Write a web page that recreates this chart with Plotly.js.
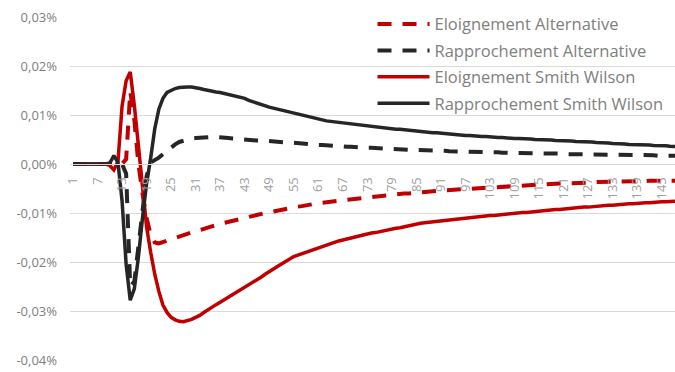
<!DOCTYPE html>
<html>
<head>
<meta charset="utf-8">
<script src="https://cdn.plot.ly/plotly-3.0.1.min.js"></script>
<style>html,body{margin:0;padding:0;background:#fff;}#chart{width:675px;height:372px;}</style>
</head>
<body>
<div id="chart"></div>
<script>
// Values in percent (0.01 = 0,01%)
const categories = Array.from({length: 150}, (_, i) => i + 1);

const eloignementAlternative = [
 0,0,0,0,0,0,0,0,0,0,0,0,0,
 0.0010,0.0148,0.0090,0.0000,-0.0060,-0.0110,-0.0145,-0.0160,-0.0162,-0.0159,-0.0156,-0.0153,-0.0150,-0.0147,-0.0145,-0.0142,-0.0140,
 -0.0137,-0.0135,-0.0132,-0.0130,-0.0127,-0.0125,-0.0122,-0.0120,-0.0118,-0.0116,
 -0.0113,-0.0111,-0.0109,-0.0107,-0.0104,-0.0103,-0.0101,-0.0100,-0.0098,-0.0097,
 -0.0095,-0.0093,-0.0092,-0.0090,-0.0089,-0.0087,-0.0086,-0.0084,-0.0083,-0.0082,
 -0.0080,-0.0079,-0.0078,-0.0076,-0.0075,-0.0074,-0.0073,-0.0072,-0.0071,-0.0070,
 -0.0069,-0.0068,-0.0068,-0.0067,-0.0066,-0.0065,-0.0064,-0.0063,-0.0063,-0.0062,
 -0.0061,-0.0060,-0.0060,-0.0059,-0.0058,-0.0057,-0.0057,-0.0056,-0.0055,-0.0055,
 -0.0054,-0.0054,-0.0053,-0.0053,-0.0052,-0.0052,-0.0051,-0.0051,-0.0050,-0.0050,
 -0.0049,-0.0049,-0.0048,-0.0048,-0.0047,-0.0047,-0.0046,-0.0046,-0.0045,-0.0045,
 -0.0044,-0.0044,-0.0043,-0.0043,-0.0042,-0.0042,-0.0041,-0.0041,-0.0041,-0.0040,
 -0.0040,-0.0040,-0.0039,-0.0039,-0.0039,-0.0038,-0.0038,-0.0038,-0.0037,-0.0037,
 -0.0037,-0.0037,-0.0036,-0.0036,-0.0036,-0.0036,-0.0035,-0.0035,-0.0035,-0.0035,
 -0.0035,-0.0034,-0.0034,-0.0034,-0.0034,-0.0034,-0.0034,-0.0034,-0.0034,-0.0034
];

const rapprochementAlternative = [
 0,0,0,0,0,0,0,0,0,0,0,0,0,
 -0.0020,-0.0250,-0.0240,-0.0165,-0.0090,-0.0025,0.0003,0.0007,0.0013,0.0020,0.0027,0.0034,0.0040,0.0045,0.0048,0.0050,0.0052,
 0.0053,0.0054,0.0054,0.0055,0.0055,0.0055,0.0055,0.0054,0.0053,0.0052,
 0.0051,0.0050,0.0050,0.0049,0.0049,0.0048,0.0048,0.0047,0.0047,0.0046,
 0.0045,0.0045,0.0044,0.0044,0.0043,0.0042,0.0042,0.0041,0.0040,0.0040,
 0.0039,0.0039,0.0038,0.0037,0.0037,0.0036,0.0036,0.0035,0.0035,0.0034,
 0.0034,0.0033,0.0033,0.0033,0.0032,0.0032,0.0032,0.0031,0.0031,0.0030,
 0.0030,0.0030,0.0029,0.0029,0.0029,0.0028,0.0028,0.0028,0.0027,0.0027,
 0.0027,0.0027,0.0026,0.0026,0.0026,0.0026,0.0025,0.0025,0.0025,0.0025,
 0.0024,0.0024,0.0024,0.0024,0.0024,0.0023,0.0023,0.0023,0.0023,0.0023,
 0.0022,0.0022,0.0022,0.0022,0.0022,0.0021,0.0021,0.0021,0.0021,0.0021,
 0.0021,0.0020,0.0020,0.0020,0.0020,0.0020,0.0020,0.0019,0.0019,0.0019,
 0.0019,0.0019,0.0019,0.0019,0.0019,0.0018,0.0018,0.0018,0.0018,0.0018,
 0.0018,0.0018,0.0018,0.0017,0.0017,0.0017,0.0017,0.0017,0.0017,0.0017
];

const eloignementSmithWilson = [
 0,0,0,0,0,0,0,0,0,-0.0003,
 -0.0012,0.0005,0.0118,0.0170,0.0188,0.0120,0.0037,-0.0050,-0.0128,-0.0180,
 -0.0225,-0.0260,-0.0288,-0.0303,-0.0313,-0.0318,-0.0321,-0.0322,-0.0320,-0.0317,
 -0.0313,-0.0309,-0.0303,-0.0297,-0.0292,-0.0287,-0.0282,-0.0277,-0.0272,-0.0267,
 -0.0261,-0.0256,-0.0252,-0.0247,-0.0243,-0.0237,-0.0231,-0.0225,-0.0219,-0.0214,
 -0.0209,-0.0204,-0.0199,-0.0193,-0.0189,-0.0186,-0.0183,-0.0180,-0.0177,-0.0174,
 -0.0171,-0.0168,-0.0165,-0.0162,-0.0160,-0.0157,-0.0155,-0.0153,-0.0150,-0.0148,
 -0.0146,-0.0145,-0.0143,-0.0141,-0.0140,-0.0138,-0.0136,-0.0135,-0.0133,-0.0131,
 -0.0130,-0.0128,-0.0127,-0.0125,-0.0123,-0.0121,-0.0120,-0.0119,-0.0118,-0.0117,
 -0.0116,-0.0115,-0.0114,-0.0114,-0.0113,-0.0112,-0.0111,-0.0110,-0.0109,-0.0108,
 -0.0107,-0.0106,-0.0105,-0.0105,-0.0104,-0.0103,-0.0102,-0.0102,-0.0101,-0.0100,
 -0.0099,-0.0099,-0.0098,-0.0097,-0.0096,-0.0096,-0.0095,-0.0094,-0.0093,-0.0093,
 -0.0092,-0.0091,-0.0090,-0.0090,-0.0089,-0.0088,-0.0088,-0.0087,-0.0086,-0.0086,
 -0.0085,-0.0084,-0.0084,-0.0083,-0.0082,-0.0082,-0.0081,-0.0081,-0.0080,-0.0080,
 -0.0079,-0.0079,-0.0078,-0.0078,-0.0077,-0.0077,-0.0076,-0.0076,-0.0075,-0.0075
];

const rapprochementSmithWilson = [
 0,0,0,0,0,0,0,0,0,0.0002,
 0.0017,0.0003,-0.0075,-0.0205,-0.0278,-0.0255,-0.0190,-0.0110,-0.0040,0.0012,
 0.0072,0.0112,0.0134,0.0146,0.0151,0.0154,0.0156,0.0157,0.0157,0.0157,
 0.0156,0.0154,0.0152,0.0150,0.0149,0.0147,0.0146,0.0144,0.0143,0.0141,
 0.0139,0.0137,0.0134,0.0130,0.0127,0.0124,0.0121,0.0118,0.0116,0.0114,
 0.0112,0.0110,0.0108,0.0106,0.0103,0.0101,0.0099,0.0097,0.0095,0.0093,
 0.0091,0.0090,0.0088,0.0087,0.0086,0.0084,0.0083,0.0082,0.0081,0.0080,
 0.0079,0.0078,0.0077,0.0076,0.0075,0.0075,0.0074,0.0073,0.0072,0.0071,
 0.0071,0.0070,0.0069,0.0068,0.0067,0.0066,0.0066,0.0065,0.0064,0.0064,
 0.0063,0.0062,0.0061,0.0060,0.0060,0.0059,0.0058,0.0058,0.0057,0.0057,
 0.0056,0.0056,0.0055,0.0055,0.0054,0.0054,0.0053,0.0053,0.0052,0.0052,
 0.0052,0.0051,0.0051,0.0050,0.0050,0.0050,0.0049,0.0049,0.0048,0.0048,
 0.0048,0.0047,0.0047,0.0046,0.0046,0.0046,0.0045,0.0045,0.0044,0.0044,
 0.0043,0.0043,0.0042,0.0042,0.0041,0.0041,0.0040,0.0040,0.0040,0.0039,
 0.0039,0.0039,0.0038,0.0038,0.0037,0.0037,0.0036,0.0036,0.0036,0.0035
];

const xTickVals = [1,7,13,19,25,31,37,43,49,55,61,67,73,79,85,91,97,103,109,115,121,127,133,139,145];
const yTickVals = [-0.04,-0.03,-0.02,-0.01,0,0.01,0.02,0.03];
const yTickText = ['-0,04%','-0,03%','-0,02%','-0,01%','0,00%','0,01%','0,02%','0,03%'];

const seriesNames = ['Eloignement Alternative','Rapprochement Alternative','Eloignement Smith Wilson','Rapprochement Smith Wilson'];
const RED = '#C00000', DARK = '#262626';

const traces = [
  {y: eloignementAlternative, name: seriesNames[0], line: {color: RED, width: 4, dash: '14px,11px'}, legendgroup: 'a'},
  {y: rapprochementAlternative, name: seriesNames[1], line: {color: DARK, width: 4, dash: '14px,11px'}, legendgroup: 'b'},
  {y: eloignementSmithWilson, name: seriesNames[2], line: {color: RED, width: 3.5}, legendgroup: 'c'},
  {y: rapprochementSmithWilson, name: seriesNames[3], line: {color: DARK, width: 3.5}, legendgroup: 'd'}
].map(t => Object.assign({x: categories, type: 'scatter', mode: 'lines', hoverinfo: 'skip'}, t));

const FONT = 'Open Sans, Noto Sans, sans-serif';
const layout = {
  width: 675, height: 372,
  margin: {l: 70, r: 0, t: 17, b: 12, pad: 0},
  paper_bgcolor: '#fff', plot_bgcolor: '#fff',
  showlegend: true,
  legend: {
    x: 0.5, xanchor: 'left', y: 1.03, yanchor: 'top',
    bgcolor: 'rgba(0,0,0,0)', borderwidth: 0,
    font: {family: FONT, size: 16.5, color: '#808080'},
    tracegroupgap: 2, itemwidth: 52,
    traceorder: 'grouped'
  },
  xaxis: {
    type: 'linear',
    range: [0.266, 148.26],
    anchor: 'free', position: 4/7,
    tickmode: 'array', tickvals: xTickVals, ticktext: xTickVals.map(String),
    tickangle: -90,
    ticklabelstandoff: 7,
    showgrid: false, zeroline: false,
    showline: true, linecolor: '#d9d9d9', linewidth: 1,
    ticks: '',
    tickfont: {family: FONT, size: 13, color: '#a0a0a0'}
  },
  yaxis: {
    range: [-0.04, 0.03],
    tickmode: 'array', tickvals: yTickVals, ticktext: yTickText,
    showgrid: true, gridcolor: '#d9d9d9', gridwidth: 1,
    zeroline: true, zerolinecolor: '#d9d9d9', zerolinewidth: 1,
    showline: false, ticks: '',
    ticklabelstandoff: 12,
    tickfont: {family: FONT, size: 13, color: '#808080'}
  }
};

Plotly.newPlot('chart', traces, layout, {staticPlot: true, displayModeBar: false});
</script>
</body>
</html>
